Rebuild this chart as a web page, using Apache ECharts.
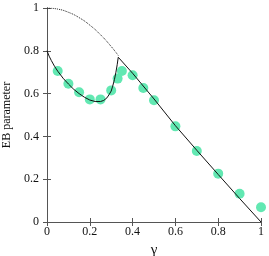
<!DOCTYPE html>
<html>
<head>
<meta charset="utf-8">
<script src="https://cdn.jsdelivr.net/npm/echarts@6/dist/echarts.min.js"></script>
<style>html,body{margin:0;padding:0;background:#fff}#c{width:269px;height:256px}</style>
</head>
<body>
<div id="c"></div>
<script>
var gammaPts = [0.05,0.10,0.15,0.20,0.25,0.30,0.33,0.35,0.40,0.45,0.50,0.60,0.70,0.80,0.90,1.00];
var ebPts    = [0.706,0.646,0.606,0.573,0.573,0.615,0.670,0.706,0.686,0.626,0.569,0.447,0.332,0.226,0.132,0.069];
var solidX = [0,0.01,0.02,0.035,0.05,0.075,0.10,0.125,0.15,0.175,0.20,0.225,0.25,0.265,0.28,0.29,0.30,0.307,0.315,0.322,0.328,0.333,0.40,0.50,0.60,0.70,0.80,0.90,1.00];
var solidY = [0.80,0.775,0.755,0.728,0.705,0.672,0.645,0.620,0.600,0.583,0.570,0.563,0.563,0.568,0.580,0.595,0.612,0.635,0.665,0.700,0.735,0.770,0.695,0.575,0.450,0.335,0.222,0.110,0.0];
var dottedX = [0,0.05,0.10,0.15,0.20,0.25,0.30,0.333];
var dottedY = [1.0,0.995,0.980,0.955,0.920,0.875,0.820,0.778];
var tickVals = [0,0.2,0.4,0.6,0.8,1];
var tickLabels = ['0','0.2','0.4','0.6','0.8','1'];

function pairs(xs, ys){ return xs.map(function(x,i){return [x, ys[i]];}); }
function fmt(v){ var i = tickVals.findIndex(function(t){return Math.abs(t-v)<1e-6;}); return i>=0 ? tickLabels[i] : ''; }

var font = 'Liberation Serif';
var axisLineStyle = {color:'#555', width:1};
var baseAxis = {
  type:'value', min:0, max:1, interval:0.2,
  axisLine:{show:true, lineStyle:axisLineStyle},
  axisTick:{show:true, inside:true, length:4, lineStyle:axisLineStyle},
  splitLine:{show:false}
};
var chart = echarts.init(document.getElementById('c'));
chart.setOption({
  animation:false,
  backgroundColor:'#fff',
  textStyle:{fontFamily:font},
  grid:{left:47, right:8, top:8, bottom:34, containLabel:false, outerBoundsMode:'none'},
  xAxis:[
    Object.assign({}, baseAxis, {position:'bottom',
      name:'γ', nameLocation:'middle', nameGap:18,
      nameTextStyle:{fontFamily:font, fontSize:15, color:'#111'},
      axisLabel:{margin:4, fontFamily:font, fontSize:12, color:'#111', formatter:fmt}}),
    Object.assign({}, baseAxis, {position:'top', axisLabel:{show:false}})
  ],
  yAxis:[
    Object.assign({}, baseAxis, {position:'left',
      name:'EB parameter', nameLocation:'middle', nameGap:30, nameRotate:90,
      nameTextStyle:{fontFamily:font, fontSize:12, color:'#111'},
      axisLabel:{margin:8, fontFamily:font, fontSize:12, color:'#111', formatter:fmt}}),
    Object.assign({}, baseAxis, {position:'right', axisLabel:{show:false}})
  ],
  series:[
    {type:'line', data:pairs(dottedX, dottedY), showSymbol:false, smooth:true,
     lineStyle:{color:'#222', width:1, type:'dotted'}},
    {type:'line', data:pairs(solidX, solidY), showSymbol:false, smooth:false,
     lineStyle:{color:'#111', width:1}},
    {type:'scatter', data:pairs(gammaPts, ebPts), symbolSize:10,
     itemStyle:{color:'#62e8b2', opacity:1}}
  ]
});
</script>
</body>
</html>
